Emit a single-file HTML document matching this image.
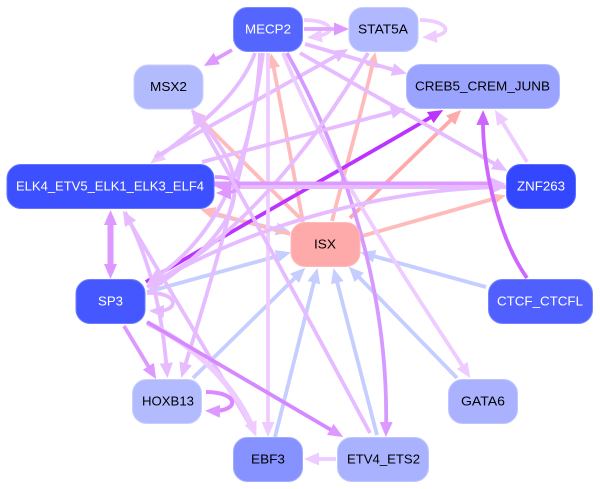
<!DOCTYPE html>
<html><head><meta charset="utf-8">
<style>
html,body{margin:0;padding:0;background:#fff}
svg{display:block}
text{font-family:"Liberation Sans",Arial,sans-serif;font-size:12.5px;text-anchor:start}
path{fill:none}
marker polygon{stroke:none}
</style></head><body>
<svg width="600" height="489" viewBox="0 0 600 489" xmlns="http://www.w3.org/2000/svg" stroke-width="3.8">
<defs>
<marker id="a" markerUnits="userSpaceOnUse" markerWidth="16" markerHeight="14" refX="9" refY="7" orient="auto"><polygon points="0,0.5 15,7 0,13.5" fill="#eeccff"/></marker>
<marker id="b" markerUnits="userSpaceOnUse" markerWidth="16" markerHeight="14" refX="9" refY="7" orient="auto"><polygon points="0,0.5 15,7 0,13.5" fill="#e6bbff"/></marker>
<marker id="c" markerUnits="userSpaceOnUse" markerWidth="16" markerHeight="14" refX="9" refY="7" orient="auto"><polygon points="0,0.5 15,7 0,13.5" fill="#dd99ff"/></marker>
<marker id="d" markerUnits="userSpaceOnUse" markerWidth="16" markerHeight="14" refX="9" refY="7" orient="auto"><polygon points="0,0.5 15,7 0,13.5" fill="#cc66ff"/></marker>
<marker id="e" markerUnits="userSpaceOnUse" markerWidth="16" markerHeight="14" refX="9" refY="7" orient="auto"><polygon points="0,0.5 15,7 0,13.5" fill="#bb33ff"/></marker>
<marker id="f" markerUnits="userSpaceOnUse" markerWidth="16" markerHeight="14" refX="9" refY="7" orient="auto"><polygon points="0,0.5 15,7 0,13.5" fill="#ffbbbb"/></marker>
<marker id="g" markerUnits="userSpaceOnUse" markerWidth="16" markerHeight="14" refX="9" refY="7" orient="auto"><polygon points="0,0.5 15,7 0,13.5" fill="#ffaaaa"/></marker>
<marker id="h" markerUnits="userSpaceOnUse" markerWidth="16" markerHeight="14" refX="9" refY="7" orient="auto"><polygon points="0,0.5 15,7 0,13.5" fill="#c5ceff"/></marker>
</defs>

<!-- blue edges to ISX -->
<g>
<path d="M212,214 L285,231" stroke="#c5ceff" marker-end="url(#h)"/>
<path d="M147,292 L285,254" stroke="#c5ceff" marker-end="url(#h)"/>
<path d="M193,378 L301,272" stroke="#c5ceff" marker-end="url(#h)"/>
<path d="M275,437 L316,274" stroke="#c5ceff" marker-end="url(#h)"/>
<path d="M377,435 L335,274" stroke="#c5ceff" marker-end="url(#h)"/>
<path d="M457,378 L353,271" stroke="#c5ceff" marker-end="url(#h)"/>
<path d="M486,287 L366,254" stroke="#c5ceff" marker-end="url(#h)"/>
</g>

<!-- salmon edges -->
<path d="M303,222 L272,59" stroke="#ffbbbb" marker-end="url(#f)"/>
<path d="M332,221 C345,170 365,100 374,58" stroke="#ffbbbb" marker-end="url(#f)"/>
<path d="M350,218 L457,114" stroke="#ffaaaa" marker-end="url(#g)"/>
<path d="M302,220 L195,114" stroke="#ffbbbb" marker-end="url(#f)"/>
<path d="M362,236 L500,197" stroke="#ffbbbb" marker-end="url(#f)"/>
<path d="M290,234 L206,211" stroke="#ffbbbb" marker-end="url(#f)"/>

<!-- strong purple -->
<path d="M146,282 C250,220 350,165 438,113" stroke="#bb33ff" marker-end="url(#e)"/>

<!-- light purple edges -->
<path d="M304,20 C332,20 340,34 313,37" stroke="#eeccff" marker-end="url(#a)"/>
<path d="M420,20 C448,20 456,35 428,37" stroke="#eeccff" marker-end="url(#a)"/>
<path d="M304,29 L343,29" stroke="#e0a8ff" marker-end="url(#c)"/>
<path d="M232,50 L209,63" stroke="#dd99ff" marker-end="url(#c)"/>
<path d="M305,44 L401,72" stroke="#e6bbff" marker-end="url(#b)"/>
<path d="M255,53 C240,95 200,125 155,160" stroke="#e6bbff" marker-end="url(#a)"/>
<path d="M155,157 L343,52" stroke="#e6bbff" marker-end="url(#b)"/>
<path d="M263,53 C250,150 215,270 183,372" stroke="#e6bbff" marker-end="url(#b)"/>
<path d="M268,53 L268,431" stroke="#eeccff" marker-end="url(#a)"/>
<path d="M283,53 C330,170 420,300 467,373" stroke="#eeccff" marker-end="url(#a)"/>
<path d="M287,53 C330,130 390,270 386,431" stroke="#d699ff" marker-end="url(#c)"/>
<path d="M300,53 L502,168" stroke="#e6bbff" marker-end="url(#b)"/>
<path d="M260,53 C255,160 215,240 152,280" stroke="#e6bbff" marker-end="url(#b)"/>
<path d="M368,53 C300,170 220,250 152,283" stroke="#e6bbff" marker-end="url(#b)"/>
<path d="M150,290 C265,215 245,170 195,115" stroke="#e6bbff" marker-end="url(#b)"/>
<path d="M202,162 L400,110" stroke="#e6bbff" marker-end="url(#b)"/>
<path d="M214,184 L500,184" stroke="#dd99ff" stroke-width="5" marker-end="url(#b)"/>
<path d="M506,187 L222,187" stroke="#e6bbff" stroke-width="4" marker-end="url(#c)"/>
<path d="M147,287 C250,225 380,190 500,187" stroke="#e6bbff" marker-end="url(#b)"/>
<path d="M215,177 C245,177 245,193 222,193" stroke="#dd99ff" marker-end="url(#c)"/>
<path d="M110.5,245 L110.5,216" stroke="#dd99ff" stroke-width="6" marker-end="url(#c)"/>
<path d="M110.5,245 L110.5,273" stroke="#dd99ff" stroke-width="6" marker-end="url(#c)"/>
<path d="M370,433 C320,340 250,210 195,114" stroke="#e6bbff" marker-end="url(#b)"/>
<path d="M255,433 L126,216" stroke="#e6bbff" marker-end="url(#b)"/>
<path d="M125,212 C150,260 162,310 167,372" stroke="#e6bbff" marker-end="url(#b)"/>
<path d="M147,323 C195,345 235,385 254,431" stroke="#eeccff" stroke-width="5.5" marker-end="url(#a)"/>
<path d="M124,326 L153,374" stroke="#dd99ff" marker-end="url(#c)"/>
<path d="M147,322 L338,434" stroke="#d688ff" marker-end="url(#c)"/>
<path d="M147,293 C180,292 180,312 155,311" stroke="#e6bbff" marker-end="url(#b)"/>
<path d="M206,392 C240,392 240,412 211,411" stroke="#dd88ff" stroke-width="4" marker-end="url(#c)"/>
<path d="M336,459 L310,459" stroke="#eeccff" marker-end="url(#a)"/>
<path d="M527,162 L498,115" stroke="#eeccff" marker-end="url(#a)"/>
<path d="M527,278 C500,240 482,170 483,116" stroke="#cc66ff" marker-end="url(#d)"/>

<!-- nodes -->
<g stroke-width="1">
<rect x="233.5" y="7.5" width="69" height="44" rx="14" fill="#5566ff" stroke="#7c89ff"/>
<rect x="349" y="7.5" width="69" height="44" rx="14" fill="#b0b8ff" stroke="#c5cbff"/>
<rect x="134" y="65" width="69" height="44" rx="14" fill="#b3bbff" stroke="#c8ceff"/>
<rect x="406.5" y="64.5" width="153" height="44" rx="14" fill="#9aa4ff" stroke="#b3bbff"/>
<rect x="7" y="164.5" width="207" height="44" rx="14" fill="#3d50ff" stroke="#6472ff"/>
<rect x="506.5" y="164.5" width="69" height="44" rx="14" fill="#3347ff" stroke="#5c6dff"/>
<rect x="291" y="222.5" width="69" height="44" rx="14" fill="#ffaaaa" stroke="#ffbbbb"/>
<rect x="76" y="279.5" width="69" height="44" rx="14" fill="#4558ff" stroke="#6e7cff"/>
<rect x="488.5" y="279.5" width="104" height="44" rx="14" fill="#4f60ff" stroke="#7583ff"/>
<rect x="132.5" y="379.5" width="69" height="44" rx="14" fill="#b3bbff" stroke="#c8ceff"/>
<rect x="448.5" y="379.5" width="69" height="44" rx="14" fill="#aab2ff" stroke="#bfc5ff"/>
<rect x="233.5" y="437.5" width="69" height="44" rx="14" fill="#8592ff" stroke="#a0aaff"/>
<rect x="337.5" y="437.5" width="91" height="44" rx="14" fill="#a9b2ff" stroke="#bfc6ff"/>
</g>

<!-- labels -->
<g>
<text x="245" y="33.5" fill="#ffffff" textLength="46" lengthAdjust="spacingAndGlyphs">MECP2</text>
<text x="358" y="33.5" fill="#000000" textLength="50" lengthAdjust="spacingAndGlyphs">STAT5A</text>
<text x="150" y="91" fill="#000000" textLength="37" lengthAdjust="spacingAndGlyphs">MSX2</text>
<text x="415" y="90.5" fill="#000000" textLength="135" lengthAdjust="spacingAndGlyphs">CREB5_CREM_JUNB</text>
<text x="16" y="190.5" fill="#ffffff" textLength="188" lengthAdjust="spacingAndGlyphs">ELK4_ETV5_ELK1_ELK3_ELF4</text>
<text x="517" y="190.5" fill="#ffffff" textLength="48" lengthAdjust="spacingAndGlyphs">ZNF263</text>
<text x="314" y="248.5" fill="#000000" textLength="22" lengthAdjust="spacingAndGlyphs">ISX</text>
<text x="98" y="305.5" fill="#ffffff" textLength="25" lengthAdjust="spacingAndGlyphs">SP3</text>
<text x="497" y="305.5" fill="#ffffff" textLength="86" lengthAdjust="spacingAndGlyphs">CTCF_CTCFL</text>
<text x="142" y="405.5" fill="#000000" textLength="52" lengthAdjust="spacingAndGlyphs">HOXB13</text>
<text x="461" y="405.5" fill="#000000" textLength="44" lengthAdjust="spacingAndGlyphs">GATA6</text>
<text x="251" y="463.5" fill="#000000" textLength="34" lengthAdjust="spacingAndGlyphs">EBF3</text>
<text x="347" y="463.5" fill="#000000" textLength="73" lengthAdjust="spacingAndGlyphs">ETV4_ETS2</text>
</g>
</svg>
</body></html>
